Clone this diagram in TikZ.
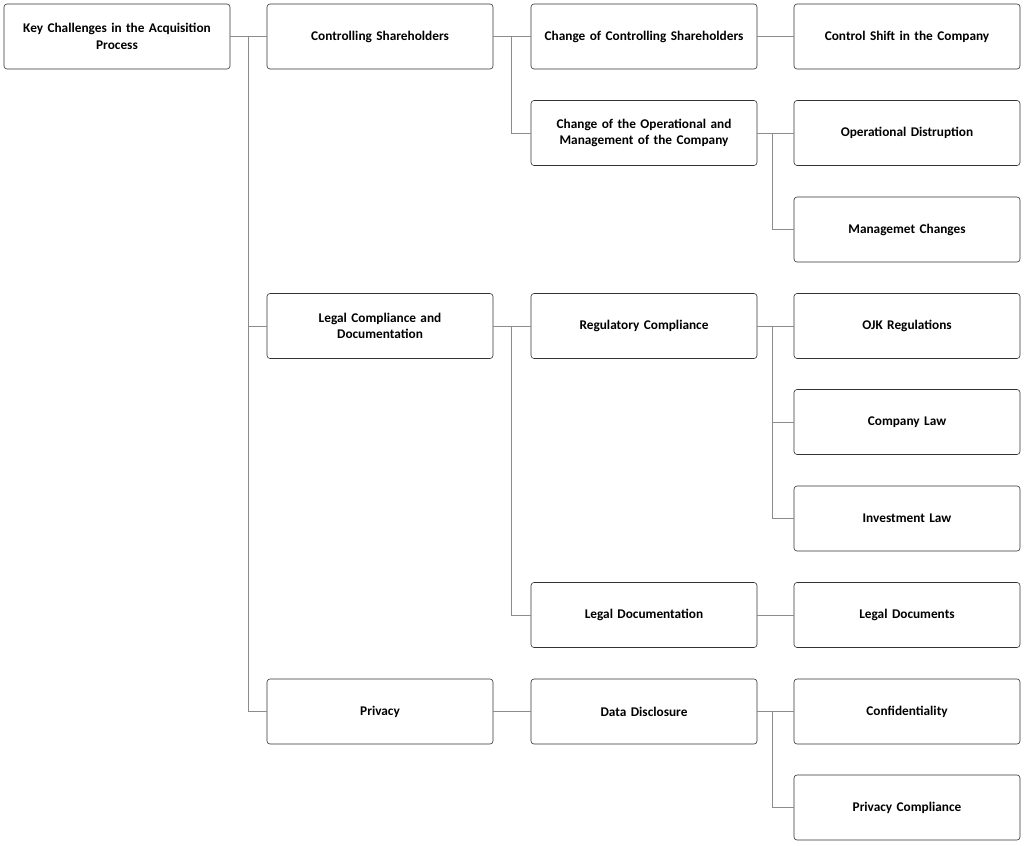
\documentclass[tikz,border=0pt]{standalone}
\usepackage{fontspec}
\setmainfont{Carlito}
\begin{document}
\begin{tikzpicture}[x=1pt,y=-1pt,
  box/.style={draw=black!80,rounded corners=3pt,minimum width=226pt,minimum height=65pt,text width=212pt,align=center,font=\bfseries\fontsize{13.3}{16.5}\selectfont,line width=0.6pt},
  con/.style={draw=black!45,line width=0.6pt}]
\useasboundingbox (0,0) rectangle (1024,845);
\node[box] (r) at (117,36.5) {Key Challenges in the Acquisition\\Process};
\node[box] (a) at (380,36.5) {Controlling Shareholders};
\node[box] (b) at (380,326) {Legal Compliance and\\Documentation};
\node[box] (c) at (380,711.5) {Privacy};
\node[box] (a1) at (644,36.5) {Change of Controlling Shareholders};
\node[box] (a2) at (644,133) {Change of the Operational and\\Management of the Company};
\node[box] (b1) at (644,326) {Regulatory Compliance};
\node[box] (b2) at (644,615) {Legal Documentation};
\node[box] (c1) at (644,711.5) {Data Disclosure};
\node[box] (a11) at (907,36.5) {Control Shift in the Company};
\node[box] (a21) at (907,133) {Operational Distruption};
\node[box] (a22) at (907,229.5) {Managemet Changes};
\node[box] (b11) at (907,326) {OJK Regulations};
\node[box] (b12) at (907,422) {Company Law};
\node[box] (b13) at (907,518.5) {Investment Law};
\node[box] (b21) at (907,615) {Legal Documents};
\node[box] (c11) at (907,711.5) {Confidentiality};
\node[box] (c12) at (907,807.5) {Privacy Compliance};
\coordinate (j0) at (248,36.5);
\coordinate (j1) at (511,36.5);
\coordinate (j2) at (772,133);
\coordinate (j3) at (511,326);
\coordinate (j4) at (772,326);
\coordinate (j5) at (772,711.5);
\draw[con] (r.east) -- (a.west);
\draw[con] (j0) |- (b.west);
\draw[con] (j0) |- (c.west);
\draw[con] (a.east) -- (a1.west);
\draw[con] (j1) |- (a2.west);
\draw[con] (a1.east) -- (a11.west);
\draw[con] (a2.east) -- (a21.west);
\draw[con] (j2) |- (a22.west);
\draw[con] (b.east) -- (b1.west);
\draw[con] (j3) |- (b2.west);
\draw[con] (b1.east) -- (b11.west);
\draw[con] (j4) |- (b12.west);
\draw[con] (j4) |- (b13.west);
\draw[con] (b2.east) -- (b21.west);
\draw[con] (c.east) -- (c1.west);
\draw[con] (c1.east) -- (c11.west);
\draw[con] (j5) |- (c12.west);
\end{tikzpicture}
\end{document}
